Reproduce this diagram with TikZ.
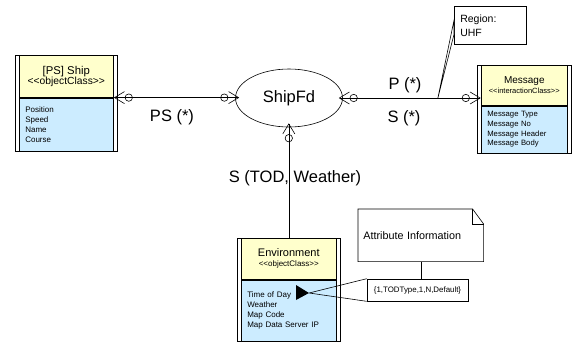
\documentclass[tikz,border=0pt]{standalone}
\usepackage{fontspec}
\setmainfont{Liberation Sans}
\usepackage{tikz}
\usetikzlibrary{positioning, shapes.geometric, arrows.meta, fit, calc}
\definecolor{clsyellow}{RGB}{255,255,204}
\definecolor{clsblue}{RGB}{204,236,255}

\begin{document}
\begin{tikzpicture}[
	  x=1pt, y=-1pt,
	  line width=0.6pt,
	  font=\fontsize{8}{10}\selectfont,
	  clshead/.style={draw, fill=clsyellow, anchor=north west, align=center, inner sep=0pt},
	  clsbody/.style={draw, fill=clsblue, align=left, inner xsep=6pt, inner ysep=0pt},
	  clsframe/.style={draw, inner xsep=4pt, inner ysep=0pt},
	  fedbox/.style={draw, ellipse, minimum width=107pt, minimum height=58pt, inner sep=0pt, font=\fontsize{16.5}{18}\selectfont},
	  lbl/.style={font=\fontsize{16.5}{18}\selectfont},
	  regionbox/.style={draw, fill=white, align=left, inner sep=6pt, font=\fontsize{10.5}{14}\selectfont},
	  notebox/.style={align=left, inner sep=5pt, font=\fontsize{10.8}{13}\selectfont},
	  tagbox/.style={draw, fill=white, minimum width=101pt, minimum height=22pt, inner sep=0pt, font=\fontsize{7.9}{9}\selectfont},
	  assoc/.style={{Straight Barb[length=10pt,width=12pt,sep=-4pt] Circle[open,length=8pt]}-{Circle[open,length=8pt] Straight Barb[length=10pt,width=12pt,sep=-4pt]}},
	  assocend/.style={-{Circle[open,length=8pt] Straight Barb[length=10pt,width=12pt,sep=-4pt]}}
	]
	\useasboundingbox (0,0) rectangle (578,341);

	% federation
	\node[fedbox] (fd) at (289,98) {ShipFd};

	% [PS] Ship
	\node[clshead, minimum width=94pt, minimum height=42pt] (shiphead) at (19,55)
	{\fontsize{11.3}{14}\selectfont [PS] Ship\\\fontsize{10.3}{12}\selectfont <\kern0pt<objectClass>\kern0pt>};
	\node[clsbody, below=0pt of shiphead, text width=82pt, minimum height=53pt] (shipbody)
	{Position\\Speed\\Name\\Course};
	\node[clsframe, fit=(shiphead)(shipbody)] (ship) {};

	% Message
	\node[clshead, minimum width=86pt, minimum height=40pt] (msghead) at (481,65)
	{\fontsize{10}{11}\selectfont Message\\\fontsize{7.5}{9}\selectfont <\kern0pt<interactionClass>\kern0pt>};
	\node[clsbody, below=0pt of msghead, text width=74pt, minimum height=47pt,
	  font=\fontsize{7.7}{9.7}\selectfont] (msgbody)
	{Message Type\\Message No\\Message Header\\Message Body};
	\node[clsframe, fit=(msghead)(msgbody)] (msg) {};

	% Environment
	\node[clshead, minimum width=95pt, minimum height=41pt] (envhead) at (241,238)
	{\fontsize{11}{12}\selectfont Environment\\\fontsize{8}{10}\selectfont <\kern0pt<objectClass>\kern0pt>};
	\node[clsbody, below=0pt of envhead, text width=83pt, minimum height=61pt] (envbody)
	{Time of Day\\Weather\\Map Code\\Map Data Server IP};
	\node[clsframe, fit=(envhead)(envbody)] (env) {};

	% connectors
	\draw[assoc] (shiphead.south -| ship.east) -- (shiphead.south -| fd.west);
	\draw[assoc] (fd.east) -- (fd.east -| msg.west) coordinate[pos=0.71] (callpt);
	\draw[assocend] (env.north) -- (env.north |- fd.south);

	\node[lbl] (pslbl) at (172,117) {PS (*)};
	\node[lbl] (plbl) at (405,85) {P (*)};
	\node[lbl] (slbl) at (404,118) {S (*)};
	\node[lbl] (sublbl) at (295,178) {S (TOD, Weather)};

	% region callout
	\node[regionbox, minimum width=72pt, minimum height=38pt, text width=60pt, anchor=north west] (region) at (454,6) {Region:\\UHF};
	\draw[fill=white] (callpt) -- ([yshift=5pt]region.west) -- ([yshift=-9pt]region.west) -- cycle;

	% attribute note
	\node[notebox, minimum width=125pt, minimum height=52pt, text width=115pt, anchor=north west] (attrnote) at (358,209) {Attribute Information};
	\draw (attrnote.north west) -- ([xshift=-11pt]attrnote.north east) -- ([yshift=-15pt]attrnote.north east)
	  -- (attrnote.south east) -- (attrnote.south west) -- cycle;
	\draw ([xshift=-11pt]attrnote.north east) |- ([yshift=-15pt]attrnote.north east);

	\node[tagbox] (tag) at (417.5,290) {\{1,TODType,1,N,Default\}};
	\draw (attrnote.south) -- (attrnote.south |- tag.north);

	\coordinate (todpt) at (309,293);
	\fill (todpt) -- ++(-13,-8) -- ++(0,15) -- cycle;
	\draw (todpt) -- (tag.north west) (todpt) -- (tag.south west);

\end{tikzpicture}
\end{document}
